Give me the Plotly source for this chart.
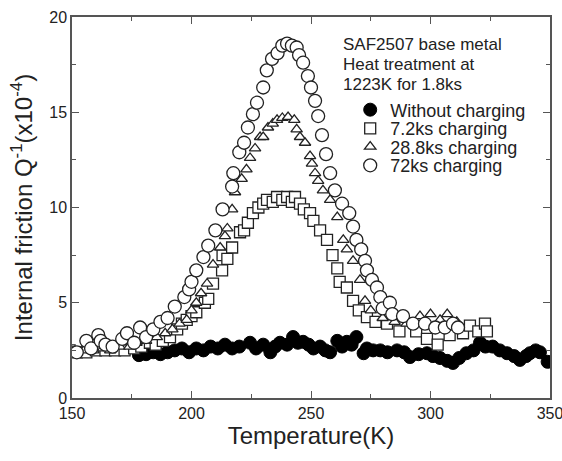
import plotly.graph_objects as go

# Without charging (filled circles)
t_none = [178, 181, 184, 187, 190, 193, 196, 199, 202, 205, 208, 211, 214, 217, 220,
          224.5, 227, 230, 233, 235, 237, 240, 242.5, 244.5, 246.7, 249, 251, 253.8, 256,
          258, 261, 263, 265, 267, 269, 272, 273.4, 276, 279, 282, 286, 289, 291.4, 295,
          298.5, 301, 304, 307, 309.4, 312, 315, 318, 320.7, 323, 326, 329, 332, 335,
          337.4, 340, 341.6, 344, 345.8, 349]
q_none = [2.25, 2.3, 2.4, 2.3, 2.4, 2.5, 2.6, 2.4, 2.6, 2.5, 2.7, 2.6, 2.8, 2.6, 2.7,
          2.9, 2.6, 2.8, 2.4, 2.7, 2.9, 2.8, 3.2, 2.9, 2.95, 2.8, 2.6, 2.7, 2.5,
          2.4, 3.0, 2.7, 2.95, 2.8, 3.2, 2.35, 2.6, 2.5, 2.5, 2.4, 2.5, 2.4, 2.15, 2.3,
          2.35, 2.2, 2.1, 1.95, 1.84, 2.1, 2.35, 2.5, 2.9, 2.7, 2.7, 2.5, 2.35, 2.2,
          2.0, 2.2, 2.35, 2.5, 2.4, 1.9]

# 7.2ks charging (open squares)
t_72 = [149, 152, 156, 160, 164, 168, 172, 176, 179, 182.6, 185, 188, 191, 194, 196,
        198, 200, 202, 205.6, 207, 209, 212.8, 213, 215, 217, 220.3, 222, 223.6, 225.7,
        228, 230, 231.6, 234, 235.8, 238, 240, 242, 243.3, 245.4, 247, 249.6, 251,
        253.8, 256.7, 259, 261, 262, 265, 267.6, 270, 273.4, 277, 281.8, 287, 294,
        298.5, 303, 308, 313.6, 316.5, 320, 322.8, 323.6]
q_72 = [2.5, 2.4, 2.4, 2.5, 2.5, 2.5, 2.5, 2.6, 2.7, 2.9, 2.8, 3.0, 3.2, 3.6, 3.9,
        4.1, 4.3, 4.5, 5.0, 5.2, 6.0, 6.7, 7.5, 7.3, 7.9, 8.7, 8.8, 9.2, 9.7,
        10.0, 10.2, 10.4, 10.3, 10.55, 10.4, 10.55, 10.3, 10.55, 10.2, 9.9, 9.7, 9.3,
        8.8, 8.3, 7.5, 6.8, 6.1, 5.8, 5.1, 4.6, 4.25, 4.0, 3.9, 3.5, 3.5,
        3.1, 2.8, 3.3, 3.4, 3.8, 3.5, 3.9, 3.5]

# 28.8ks charging (open triangles)
t_288 = [150, 152, 155, 159, 163, 166, 170, 174, 177, 181, 185.5, 189, 192, 195, 198,
         200, 202, 204, 206.5, 209, 212, 214, 215, 217, 218.2, 221, 223, 224.5, 226.6,
         228.7, 230, 232, 234, 235.8, 238, 240.4, 243, 244, 245.4, 247.5, 249.6, 250.4,
         251.7, 253, 255, 258, 261, 263.5, 265, 267.6, 270.5, 272.6, 275, 280, 285,
         290, 295.6, 300, 304, 307, 311]
q_288 = [2.4, 2.4, 2.5, 2.5, 2.6, 2.5, 2.7, 2.7, 2.9, 3.0, 3.2, 3.4, 3.6, 3.9, 4.1,
         4.6, 5.0, 5.5, 6.0, 7.0, 7.9, 8.5, 8.9, 9.9, 10.8, 11.5, 12.0, 12.6, 13.1,
         13.7, 13.7, 14.2, 14.4, 14.6, 14.7, 14.75, 14.6, 14.1, 13.7, 13.4, 12.7, 12.3,
         11.8, 11.4, 10.9, 10.4, 9.5, 8.3, 7.8, 7.2, 6.2, 5.1, 4.6, 4.2, 4.0,
         3.9, 4.3, 4.4, 4.1, 4.4, 4.0]

# 72ks charging (open circles)
t_720 = [152, 156, 158, 161, 162, 164, 167, 171, 173, 176, 178.5, 181, 184, 187, 190,
         193, 197, 199, 200, 202, 205, 207, 210, 213, 217, 217.5, 220, 222, 223.6,
         225.7, 227.4, 230, 231.5, 233.7, 236, 238, 240, 242, 244, 245, 246.7, 248.7,
         250, 251.7, 253, 254.6, 256.3, 258, 260, 263, 266, 267.6, 269, 271, 272.6,
         273.4, 275.5, 277.6, 279, 280, 283, 284, 288.5, 292.7, 297.7, 302, 306,
         309.4, 311.5]
q_720 = [2.4, 3.0, 2.6, 3.3, 3.0, 2.8, 2.7, 3.1, 3.4, 2.9, 3.7, 3.2, 3.6, 4.0, 4.2,
         4.8, 5.3, 5.7, 6.1, 6.7, 7.4, 8.0, 8.8, 9.9, 11.1, 11.8, 12.9, 13.4, 14.2,
         14.9, 15.5, 16.3, 17.2, 17.8, 18.1, 18.5, 18.6, 18.5, 18.4, 18.0, 17.6, 16.9,
         16.3, 15.6, 14.8, 13.8, 12.8, 11.8, 10.9, 10.2, 9.7, 9.0, 8.3, 7.8, 7.2,
         6.7, 6.2, 5.8, 5.3, 4.7, 5.0, 4.4, 4.3, 3.9, 3.9, 3.7, 3.7,
         3.9, 3.7]

note_lines = ['SAF2507 base metal', 'Heat treatment at', '1223K for 1.8ks']

ink = '#222222'
fig = go.Figure()

fig.add_trace(go.Scatter(x=t_none, y=q_none, mode='markers', name='Without charging',
                         legend='legend',
                         marker=dict(symbol='circle', size=13, color='black',
                                     line=dict(color='black', width=1))))
fig.add_trace(go.Scatter(x=t_72, y=q_72, mode='markers', name='7.2ks charging',
                         legend='legend2',
                         marker=dict(symbol='square', size=11, color='white',
                                     line=dict(color=ink, width=1.3))))
fig.add_trace(go.Scatter(x=t_288, y=q_288, mode='markers', name='28.8ks charging',
                         legend='legend3',
                         marker=dict(symbol='triangle-up', size=10, color='white',
                                     line=dict(color=ink, width=1.3))))
fig.add_trace(go.Scatter(x=t_720, y=q_720, mode='markers', name='72ks charging',
                         legend='legend4',
                         marker=dict(symbol='circle', size=13, color='white',
                                     line=dict(color=ink, width=1.3))))

axis_common = dict(
    showline=True,
    linecolor='#555555',
    linewidth=1.5,
    mirror='ticks',
    ticks='inside',
    ticklen=7,
    tickwidth=1.2,
    tickcolor='#555555',
    showgrid=False,
    zeroline=False,
    automargin=False,
    ticklabeloverflow='allow',
    tickfont=dict(family='Arial', size=16, color=ink),
)

fig.update_xaxes(axis_common, range=[150, 350], dtick=50, tick0=150,
                 minor=dict(dtick=25, ticks='inside', ticklen=4, tickcolor='#555555'),
                 title=dict(text='Temperature(K)', font=dict(family='Arial', size=24, color=ink),
                            standoff=6))
fig.update_yaxes(axis_common, range=[0, 20], dtick=5, tick0=0,
                 minor=dict(dtick=2.5, ticks='inside', ticklen=4, tickcolor='#555555'),
                 title=dict(text='Internal friction Q<sup>-1</sup>(x10<sup>-4</sup>)',
                            font=dict(family='Arial', size=24, color=ink), standoff=10))

for i, line in enumerate(note_lines):
    fig.add_annotation(xref='paper', yref='paper', x=0.562, y=0.927 - i * 0.0525,
                       xanchor='left', yanchor='middle', align='left', showarrow=False,
                       text=line, font=dict(family='Arial', size=17, color=ink))

leg_common = dict(x=0.582, xanchor='left', yanchor='middle',
                  font=dict(family='Arial', size=18, color=ink),
                  bgcolor='rgba(0,0,0,0)')

fig.update_layout(
    width=562,
    height=461,
    autosize=False,
    margin=dict(l=72, r=12, t=17, b=63),
    plot_bgcolor='white',
    paper_bgcolor='white',
    showlegend=True,
    legend=dict(leg_common, y=0.756),
    legend2=dict(leg_common, y=0.707),
    legend3=dict(leg_common, y=0.659),
    legend4=dict(leg_common, y=0.610),
)

# drop the default page margin so the figure sits at the window corner
fig.write_html("out.html", config={'displayModeBar': False},
               post_script="document.body.style.margin='0';document.body.style.overflow='hidden';")
